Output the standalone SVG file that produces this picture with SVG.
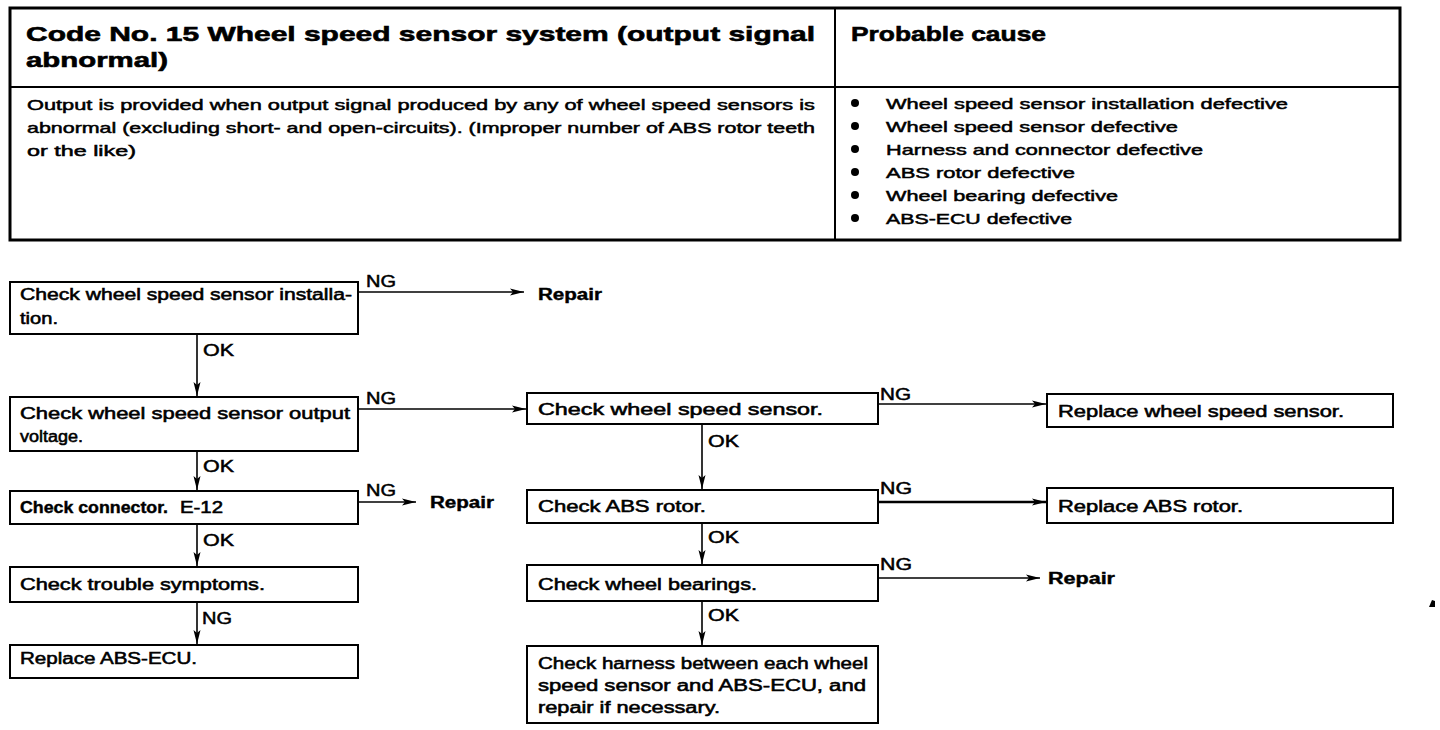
<svg xmlns="http://www.w3.org/2000/svg" width="1440" height="730" viewBox="0 0 1440 730">
<style>
text{font-family:"Liberation Sans",Arial,sans-serif;fill:#000}
.t{font-size:21px;font-weight:bold;stroke:#000;stroke-width:0.6}
.d{font-size:15px;stroke:#000;stroke-width:0.5}
.b{font-size:16px;stroke:#000;stroke-width:0.55}
.bb{font-size:16px;font-weight:bold;stroke:#000;stroke-width:0.4}
.lb{font-size:17px;stroke:#000;stroke-width:0.5}
.box{fill:#fff;stroke:#000;stroke-width:2}
.tbl{fill:none;stroke:#000;stroke-width:3}
.ln{fill:none;stroke:#000;stroke-width:1.6}
</style>
<defs>
<marker id="ah" markerWidth="14" markerHeight="8" refX="14" refY="4" orient="auto" markerUnits="userSpaceOnUse">
<path d="M0,0.5 L14,4 L0,7.5 L3,4 z" fill="#000"/>
</marker>
</defs>
<rect width="1440" height="730" fill="#fff"/>

<g id="table">
<rect class="tbl" x="10" y="8" width="1390" height="232"/>
<line x1="10" y1="87" x2="1400" y2="87" stroke="#000" stroke-width="2"/>
<line x1="835" y1="8" x2="835" y2="240" stroke="#000" stroke-width="2"/>
<text class="t" x="26" y="41" textLength="789" lengthAdjust="spacingAndGlyphs">Code No. 15 Wheel speed sensor system (output signal</text>
<text class="t" x="26" y="67" textLength="142" lengthAdjust="spacingAndGlyphs">abnormal)</text>
<text class="t" x="851" y="41" textLength="195" lengthAdjust="spacingAndGlyphs">Probable cause</text>
<text class="d" x="27" y="110" textLength="788" lengthAdjust="spacingAndGlyphs">Output is provided when output signal produced by any of wheel speed sensors is</text>
<text class="d" x="27" y="133" textLength="788" lengthAdjust="spacingAndGlyphs">abnormal (excluding short- and open-circuits). (Improper number of ABS rotor teeth</text>
<text class="d" x="27" y="156" textLength="109" lengthAdjust="spacingAndGlyphs">or the like)</text>
<g fill="#000">
<circle cx="855" cy="103" r="4"/>
<circle cx="855" cy="126" r="4"/>
<circle cx="855" cy="149" r="4"/>
<circle cx="855" cy="172" r="4"/>
<circle cx="855" cy="195" r="4"/>
<circle cx="855" cy="218" r="4"/>
</g>
<text class="d" x="886" y="109" textLength="402" lengthAdjust="spacingAndGlyphs">Wheel speed sensor installation defective</text>
<text class="d" x="886" y="132" textLength="292" lengthAdjust="spacingAndGlyphs">Wheel speed sensor defective</text>
<text class="d" x="886" y="155" textLength="317" lengthAdjust="spacingAndGlyphs">Harness and connector defective</text>
<text class="d" x="886" y="178" textLength="189" lengthAdjust="spacingAndGlyphs">ABS rotor defective</text>
<text class="d" x="886" y="201" textLength="232" lengthAdjust="spacingAndGlyphs">Wheel bearing defective</text>
<text class="d" x="886" y="224" textLength="186" lengthAdjust="spacingAndGlyphs">ABS-ECU defective</text>
</g>

<g id="connectors">
<line class="ln" x1="358" y1="292" x2="524" y2="292" marker-end="url(#ah)"/>
<line class="ln" x1="197" y1="334" x2="197" y2="396" marker-end="url(#ah)"/>
<line class="ln" x1="358" y1="409" x2="526" y2="409" marker-end="url(#ah)"/>
<line class="ln" x1="878" y1="404" x2="1046" y2="404" marker-end="url(#ah)"/>
<line class="ln" x1="197" y1="451" x2="197" y2="490" marker-end="url(#ah)"/>
<line class="ln" x1="358" y1="502" x2="416" y2="502" marker-end="url(#ah)"/>
<line class="ln" x1="702" y1="424" x2="702" y2="489" marker-end="url(#ah)"/>
<line x1="878" y1="502" x2="1046" y2="502" stroke="#000" stroke-width="2.4" marker-end="url(#ah)"/>
<line class="ln" x1="197" y1="524" x2="197" y2="566" marker-end="url(#ah)"/>
<line class="ln" x1="702" y1="523" x2="702" y2="564" marker-end="url(#ah)"/>
<line class="ln" x1="197" y1="602" x2="197" y2="644" marker-end="url(#ah)"/>
<line class="ln" x1="878" y1="578" x2="1040" y2="578" marker-end="url(#ah)"/>
<line class="ln" x1="702" y1="601" x2="702" y2="645" marker-end="url(#ah)"/>
<text class="lb" x="366" y="287" textLength="30" lengthAdjust="spacingAndGlyphs">NG</text>
<text class="lb" x="203" y="356" textLength="31" lengthAdjust="spacingAndGlyphs">OK</text>
<text class="lb" x="366" y="404" textLength="30" lengthAdjust="spacingAndGlyphs">NG</text>
<text class="lb" x="880" y="400" textLength="31" lengthAdjust="spacingAndGlyphs">NG</text>
<text class="lb" x="203" y="472" textLength="31" lengthAdjust="spacingAndGlyphs">OK</text>
<text class="lb" x="366" y="496" textLength="30" lengthAdjust="spacingAndGlyphs">NG</text>
<text class="lb" x="708" y="447" textLength="31" lengthAdjust="spacingAndGlyphs">OK</text>
<text class="lb" x="880" y="494" textLength="32" lengthAdjust="spacingAndGlyphs">NG</text>
<text class="lb" x="203" y="546" textLength="31" lengthAdjust="spacingAndGlyphs">OK</text>
<text class="lb" x="708" y="543" textLength="31" lengthAdjust="spacingAndGlyphs">OK</text>
<text class="lb" x="202" y="624" textLength="30" lengthAdjust="spacingAndGlyphs">NG</text>
<text class="lb" x="880" y="570" textLength="32" lengthAdjust="spacingAndGlyphs">NG</text>
<text class="lb" x="708" y="621" textLength="31" lengthAdjust="spacingAndGlyphs">OK</text>
</g>

<g id="repair1"><text class="bb" x="538" y="300" textLength="64" lengthAdjust="spacingAndGlyphs">Repair</text></g>
<g id="repair2"><text class="bb" x="430" y="508" textLength="64" lengthAdjust="spacingAndGlyphs">Repair</text></g>
<g id="repair3"><text class="bb" x="1048" y="584" textLength="67" lengthAdjust="spacingAndGlyphs">Repair</text></g>

<g id="nodeA">
<rect class="box" x="10" y="282" width="348" height="52"/>
<text class="b" x="20" y="300" textLength="332" lengthAdjust="spacingAndGlyphs">Check wheel speed sensor installa-</text>
<text class="b" x="20" y="324" textLength="38" lengthAdjust="spacingAndGlyphs">tion.</text>
</g>
<g id="nodeB">
<rect class="box" x="10" y="397" width="348" height="54"/>
<text class="b" x="20" y="419" textLength="330" lengthAdjust="spacingAndGlyphs">Check wheel speed sensor output</text>
<text class="b" x="20" y="442" textLength="63" lengthAdjust="spacingAndGlyphs">voltage.</text>
</g>
<g id="nodeC">
<rect class="box" x="527" y="393" width="351" height="31"/>
<text class="b" x="538" y="415" textLength="285" lengthAdjust="spacingAndGlyphs">Check wheel speed sensor.</text>
</g>
<g id="nodeC2">
<rect class="box" x="1047" y="394" width="346" height="33"/>
<text class="b" x="1058" y="417" textLength="286" lengthAdjust="spacingAndGlyphs">Replace wheel speed sensor.</text>
</g>
<g id="nodeD">
<rect class="box" x="10" y="491" width="348" height="33"/>
<text class="bb" x="20" y="513" textLength="148" lengthAdjust="spacingAndGlyphs">Check connector.</text>
<text class="b" x="180" y="513" textLength="43" lengthAdjust="spacingAndGlyphs">E-12</text>
</g>
<g id="nodeE">
<rect class="box" x="527" y="490" width="351" height="33"/>
<text class="b" x="538" y="512" textLength="168" lengthAdjust="spacingAndGlyphs">Check ABS rotor.</text>
</g>
<g id="nodeE2">
<rect class="box" x="1047" y="488" width="346" height="35"/>
<text class="b" x="1058" y="512" textLength="185" lengthAdjust="spacingAndGlyphs">Replace ABS rotor.</text>
</g>
<g id="nodeF">
<rect class="box" x="10" y="567" width="348" height="35"/>
<text class="b" x="20" y="590" textLength="245" lengthAdjust="spacingAndGlyphs">Check trouble symptoms.</text>
</g>
<g id="nodeG">
<rect class="box" x="10" y="645" width="348" height="33"/>
<text class="b" x="20" y="664" textLength="177" lengthAdjust="spacingAndGlyphs">Replace ABS-ECU.</text>
</g>
<g id="nodeH">
<rect class="box" x="527" y="565" width="351" height="36"/>
<text class="b" x="538" y="590" textLength="219" lengthAdjust="spacingAndGlyphs">Check wheel bearings.</text>
</g>
<g id="nodeI">
<rect class="box" x="527" y="646" width="351" height="77"/>
<text class="b" x="538" y="669" textLength="330" lengthAdjust="spacingAndGlyphs">Check harness between each wheel</text>
<text class="b" x="538" y="691" textLength="328" lengthAdjust="spacingAndGlyphs">speed sensor and ABS-ECU, and</text>
<text class="b" x="538" y="713" textLength="182" lengthAdjust="spacingAndGlyphs">repair if necessary.</text>
</g>
<path d="M1429,607 L1432,600 L1435,601 L1435,607 z" fill="#000"/>
</svg>
